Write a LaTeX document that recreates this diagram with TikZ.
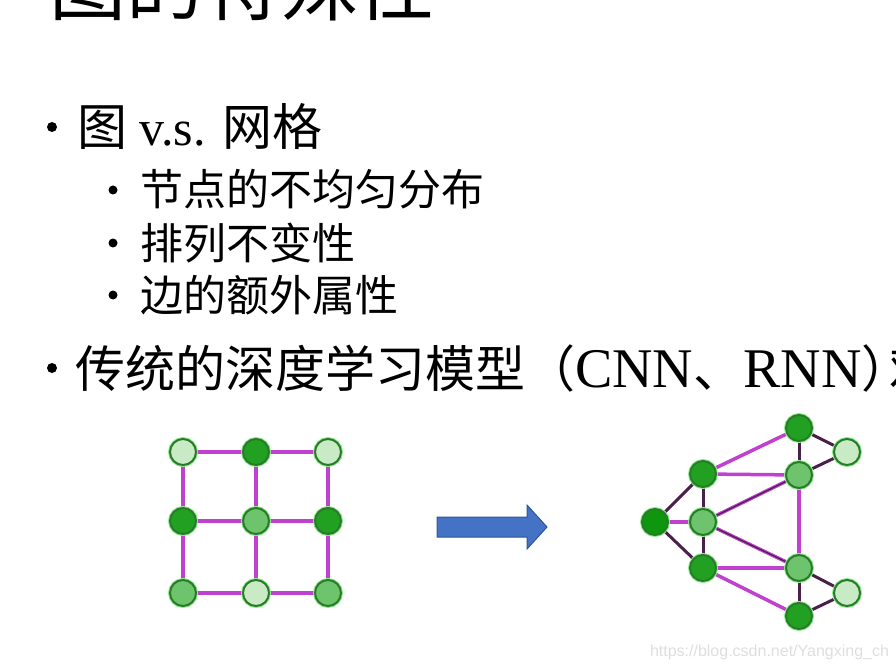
\documentclass[tikz,border=0pt]{standalone}
\usepackage{fontspec}
\setmainfont{Liberation Serif}
\newfontfamily\cjk{Noto Sans CJK SC}
\newfontfamily\wmfont{Liberation Sans}
\usetikzlibrary{backgrounds}
\definecolor{gLight}{HTML}{C8EAC4}
\definecolor{gMed}{HTML}{6DC46D}
\definecolor{gDark}{HTML}{22A022}
\definecolor{gDeep}{HTML}{0E960E}
\definecolor{gBorder}{HTML}{2B7A2B}
\definecolor{gGlow}{HTML}{8CF08C}
\definecolor{eMag}{HTML}{C040D0}
\definecolor{eDark}{HTML}{4A1F4A}
\definecolor{arrBlue}{HTML}{4472C4}
\definecolor{arrEdge}{HTML}{2F5597}
\begin{document}
\begin{tikzpicture}[x=1pt,y=-1pt,
  vtx/.style={circle, draw=gBorder, line width=2pt, minimum size=26pt, inner sep=0pt,
              preaction={draw=gGlow, line width=4pt}},
  vl/.style={vtx, fill=gLight},
  vm/.style={vtx, fill=gMed},
  vd/.style={vtx, fill=gDark},
  vdd/.style={vtx, fill=gDeep},
  emag/.style={draw=eMag, line width=3.5pt},
  edark/.style={draw=eDark, line width=3pt},
  txt/.style={anchor=base west, inner sep=0pt, outer sep=0pt},
  lvlone/.style={txt, font=\fontsize{50}{60}\selectfont},
  lvltwo/.style={txt, font=\cjk\fontsize{43}{50}\selectfont},
  bul/.style={fill=black}
]
\useasboundingbox (0,0) rectangle (896,668);
\clip (0,0) rectangle (896,668);

% title (cut off at top)
\node[txt, font=\cjk\fontsize{77}{80}\selectfont] (title) at (49,15) {图的特殊性};

% bullets
\fill[bul] (52,127) circle (5);
\fill[bul] (113,190) circle (4.5);
\fill[bul] (113,243) circle (4.5);
\fill[bul] (113,295) circle (4.5);
\fill[bul] (52,368) circle (5);

\node[lvlone] (l1) at (77,146) {{\cjk 图} v.s. {\cjk 网格}};
\node[lvltwo] (l2) at (140,206) {节点的不均匀分布};
\node[lvltwo] (l3) at (140,259) {排列不变性};
\node[lvltwo] (l4) at (140,311) {边的额外属性};
\node[lvlone] (l5) at (75,387) {{\cjk 传统的深度学习模型（}{\fontsize{56}{60}\selectfont CNN}{\cjk 、}{\fontsize{56}{60}\selectfont RNN}{\cjk ）\kern-22pt 难}};

% grid graph
\node[vl] (g11) at (183,452) {};
\node[vd] (g12) at (256,452) {};
\node[vl] (g13) at (328,452) {};
\node[vd] (g21) at (183,521) {};
\node[vm] (g22) at (256,521) {};
\node[vd] (g23) at (328,521) {};
\node[vm] (g31) at (183,593) {};
\node[vl] (g32) at (256,593) {};
\node[vm] (g33) at (328,593) {};
\begin{scope}[on background layer]
  \draw[emag] (g11)--(g12)--(g13);
  \draw[emag] (g21)--(g22)--(g23);
  \draw[emag] (g31)--(g32)--(g33);
  \draw[emag] (g11)--(g21)--(g31);
  \draw[emag] (g12)--(g22)--(g32);
  \draw[emag] (g13)--(g23)--(g33);
\end{scope}

% block arrow
\draw[fill=arrBlue, draw=arrEdge, line width=1pt, line join=miter]
  (437,517) -- (527,517) -- (527,505) -- (547,527) -- (527,549) -- (527,537) -- (437,537) -- cycle;

% irregular graph
\node[vd] (A) at (799,428) {};
\node[vl] (B) at (847,452) {};
\node[vm] (C) at (799,475) {};
\node[vd] (D) at (703,474) {};
\node[vdd] (E) at (655,522) {};
\node[vm] (F) at (703,522) {};
\node[vd] (G) at (703,568) {};
\node[vm] (H) at (799,568) {};
\node[vl] (I) at (847,593) {};
\node[vd] (J) at (799,616) {};
\begin{scope}[on background layer]
  \draw[emag] (A)--(D);
  \draw[emag] (D)--(C);
  \draw[emag] (F)--(C);
  \draw[emag] (E)--(F);
  \draw[emag] (C)--(H);
  \draw[emag] (G)--(H);
  \draw[emag] (G)--(J);
  \draw[emag] (F)--(H);
  \draw[edark, line width=1.2pt] (F)--(H);
  \draw[edark, line width=1.2pt] (F)--(C);
  \draw[edark] (A)--(C);
  \draw[edark] (A)--(B);
  \draw[edark] (C)--(B);
  \draw[edark] (D)--(E);
  \draw[edark] (D)--(F);
  \draw[edark] (E)--(G);
  \draw[edark] (F)--(G);
  \draw[edark] (H)--(J);
  \draw[edark] (H)--(I);
  \draw[edark] (J)--(I);
\end{scope}

% watermark
\node[txt, text=black!13, font=\wmfont\fontsize{16}{18}\selectfont] (wm) at (650,656) {https://blog.csdn.net/Yangxing\_ch};
\end{tikzpicture}
\end{document}
